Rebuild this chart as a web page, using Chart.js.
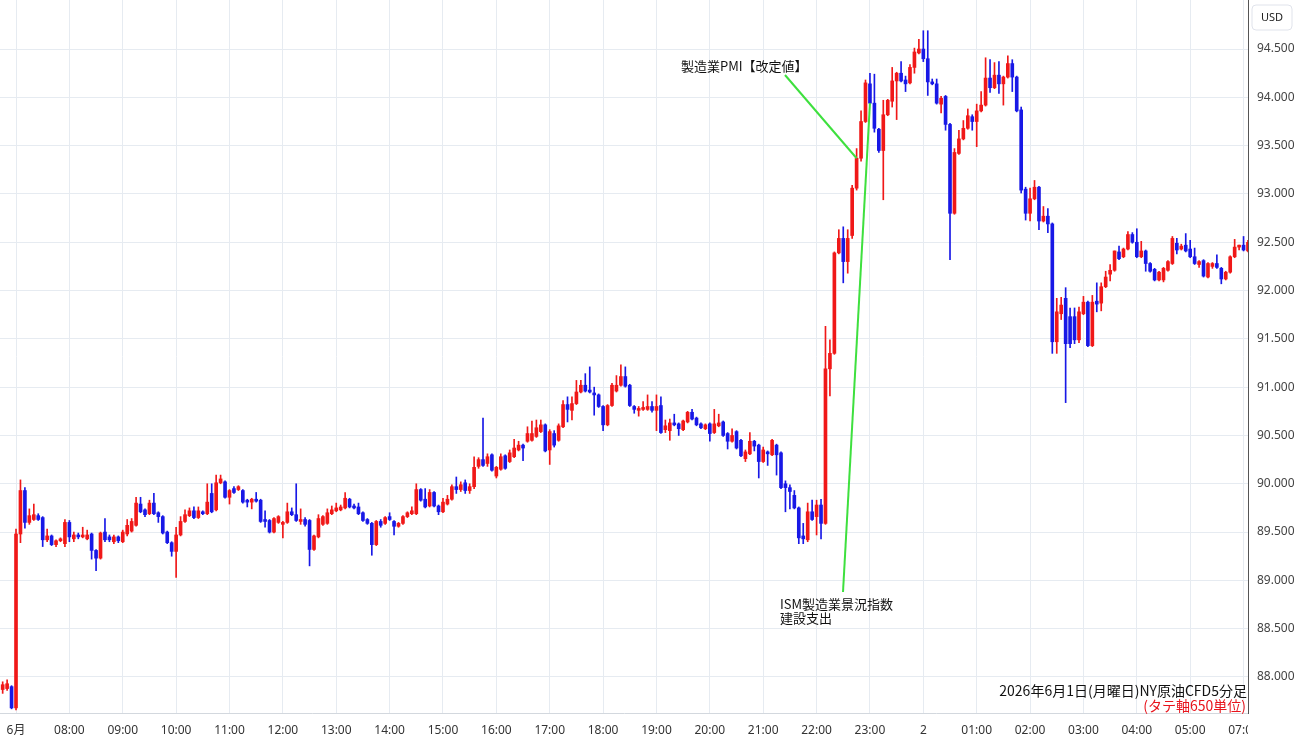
<!DOCTYPE html>
<html>
<head>
<meta charset="utf-8">
<title>NY原油CFD 5分足</title>
<script src="https://cdn.jsdelivr.net/npm/chart.js@4.4.1/dist/chart.umd.min.js"></script>
<style>
  html, body { margin: 0; padding: 0; background: #fff; }
  #chart { display: block; }
</style>
</head>
<body>
<canvas id="chart" width="1300" height="745"></canvas>
<script>
// 5-minute candles: last three Friday bars, then Mon 07:00 -> Tue 07:05 (06:00-07:00 is closed)
const fridayTimes = ['05:45', '05:50', '05:55'];
const sessionHours = ['07', '08', '09', '10', '11', '12', '13', '14', '15', '16', '17', '18',
                      '19', '20', '21', '22', '23', '00', '01', '02', '03', '04', '05'];
const minutes = ['00', '05', '10', '15', '20', '25', '30', '35', '40', '45', '50', '55'];
const tuesdayTimes = ['07:00', '07:05'];

const xTickLabels = ['6月', '08:00', '09:00', '10:00', '11:00', '12:00', '13:00', '14:00', '15:00',
                     '16:00', '17:00', '18:00', '19:00', '20:00', '21:00', '22:00', '23:00', '2',
                     '01:00', '02:00', '03:00', '04:00', '05:00', '07:00'];
const yTicks = [88, 88.5, 89, 89.5, 90, 90.5, 91, 91.5, 92, 92.5, 93, 93.5, 94, 94.5];

const opens = [
  87.87, 87.88, 87.90,
  87.68, 89.48, 89.93, 89.60, 89.63, 89.67, 89.65, 89.42, 89.46, 89.37, 89.41, 89.38, // 07
  89.60, 89.43, 89.47, 89.45, 89.43, 89.48, 89.31, 89.23, 89.50, 89.45, 89.40, 89.45, // 08
  89.40, 89.48, 89.51, 89.57, 89.79, 89.73, 89.69, 89.80, 89.70, 89.66, 89.50, 89.39, // 09
  89.30, 89.47, 89.61, 89.67, 89.72, 89.65, 89.71, 89.69, 89.90, 89.73, 90.01, 90.02, // 10
  89.86, 89.95, 89.94, 89.93, 89.83, 89.81, 89.84, 89.83, 89.63, 89.62, 89.50, 89.60, // 11
  89.58, 89.60, 89.71, 89.68, 89.61, 89.63, 89.62, 89.32, 89.45, 89.58, 89.59, 89.69, // 12
  89.72, 89.73, 89.75, 89.84, 89.77, 89.76, 89.70, 89.63, 89.59, 89.37, 89.61, 89.59, // 13
  89.66, 89.61, 89.56, 89.59, 89.66, 89.69, 89.69, 89.94, 89.84, 89.77, 89.91, 89.77, // 14
  89.71, 89.79, 89.84, 89.97, 89.94, 90.01, 89.93, 89.97, 90.18, 90.25, 90.21, 90.30, // 15
  90.08, 90.15, 90.29, 90.23, 90.28, 90.35, 90.40, 90.44, 90.45, 90.49, 90.54, 90.61, // 16
  90.35, 90.52, 90.45, 90.59, 90.82, 90.76, 90.83, 90.95, 91.02, 90.97, 90.94, 90.92, // 17
  90.80, 90.61, 90.81, 90.96, 91.02, 91.11, 91.02, 90.80, 90.76, 90.77, 90.77, 90.80, // 18
  90.76, 90.81, 90.56, 90.55, 90.63, 90.62, 90.56, 90.64, 90.74, 90.68, 90.62, 90.57, // 19
  90.62, 90.53, 90.60, 90.64, 90.52, 90.44, 90.54, 90.45, 90.26, 90.31, 90.44, 90.40, // 20
  90.23, 90.33, 90.30, 90.40, 90.32, 90.00, 89.96, 89.88, 89.75, 89.46, 89.42, 89.71, // 21
  89.66, 89.78, 89.59, 91.19, 91.35, 92.39, 92.54, 92.30, 92.57, 93.06, 93.37, 93.75, // 22
  94.14, 93.94, 93.67, 93.45, 93.82, 93.96, 94.17, 94.25, 94.18, 94.15, 94.31, 94.46, // 23
  94.50, 94.40, 94.16, 94.14, 93.93, 94.01, 93.72, 92.80, 93.42, 93.57, 93.68, 93.80, // 00
  93.75, 93.86, 93.92, 94.20, 94.10, 94.23, 94.14, 94.21, 94.35, 94.21, 93.87, 93.05, // 01
  92.80, 92.95, 93.07, 92.72, 92.77, 92.69, 91.47, 91.76, 91.92, 91.73, 91.73, 91.49, // 02
  91.76, 91.88, 91.43, 91.89, 91.87, 92.04, 92.17, 92.21, 92.40, 92.35, 92.43, 92.58, // 03
  92.50, 92.35, 92.41, 92.28, 92.22, 92.11, 92.11, 92.21, 92.28, 92.49, 92.43, 92.47, // 04
  92.43, 92.35, 92.27, 92.31, 92.14, 92.25, 92.28, 92.23, 92.12, 92.19, 92.35, 92.45, // 05
  92.47, 92.41
];
const highs = [
  87.95, 87.97, 87.91,
  89.53, 90.04, 89.96, 89.74, 89.79, 89.69, 89.66, 89.53, 89.47, 89.42, 89.44, 89.63,
  89.62, 89.50, 89.49, 89.55, 89.52, 89.49, 89.32, 89.50, 89.64, 89.47, 89.47, 89.46,
  89.52, 89.63, 89.64, 89.86, 89.86, 89.74, 89.83, 89.90, 89.71, 89.67, 89.51, 89.40,
  89.55, 89.66, 89.73, 89.75, 89.76, 89.76, 89.72, 90.00, 90.00, 90.09, 90.09, 90.03,
  89.94, 89.97, 89.98, 89.94, 89.84, 89.85, 89.91, 89.84, 89.72, 89.63, 89.65, 89.67,
  89.61, 89.80, 89.75, 90.00, 89.74, 89.65, 89.63, 89.47, 89.68, 89.67, 89.74, 89.77,
  89.80, 89.78, 89.91, 89.85, 89.79, 89.80, 89.71, 89.64, 89.60, 89.62, 89.63, 89.66,
  89.70, 89.62, 89.60, 89.67, 89.71, 89.76, 90.00, 89.95, 89.95, 89.94, 89.92, 89.78,
  89.85, 89.88, 89.99, 90.07, 90.02, 90.04, 90.00, 90.28, 90.27, 90.68, 90.31, 90.31,
  90.18, 90.31, 90.30, 90.35, 90.46, 90.44, 90.41, 90.59, 90.65, 90.66, 90.66, 90.62,
  90.56, 90.55, 90.62, 90.86, 90.90, 90.90, 91.07, 91.07, 91.14, 91.21, 91.00, 90.93,
  90.81, 90.82, 91.04, 91.12, 91.23, 91.21, 91.03, 90.81, 90.80, 90.85, 90.92, 90.85,
  90.92, 90.90, 90.66, 90.67, 90.72, 90.63, 90.66, 90.75, 90.77, 90.69, 90.63, 90.62,
  90.63, 90.77, 90.72, 90.65, 90.53, 90.57, 90.55, 90.46, 90.35, 90.53, 90.45, 90.41,
  90.38, 90.34, 90.46, 90.41, 90.33, 90.03, 89.99, 89.93, 89.76, 89.59, 89.80, 89.83,
  89.83, 89.84, 91.63, 91.49, 92.40, 92.63, 92.66, 92.63, 93.09, 93.47, 93.86, 94.18,
  94.25, 94.24, 93.68, 93.97, 93.98, 94.31, 94.26, 94.37, 94.22, 94.34, 94.51, 94.60,
  94.69, 94.69, 94.19, 94.19, 94.01, 94.02, 93.73, 93.47, 93.66, 93.76, 93.88, 93.82,
  93.93, 94.06, 94.41, 94.39, 94.36, 94.37, 94.22, 94.43, 94.39, 94.22, 93.90, 93.07,
  93.06, 93.14, 93.08, 92.87, 92.85, 92.70, 91.92, 91.93, 92.03, 91.82, 91.82, 91.83,
  91.94, 91.89, 91.95, 92.08, 92.08, 92.20, 92.27, 92.41, 92.46, 92.44, 92.61, 92.60,
  92.64, 92.51, 92.42, 92.29, 92.23, 92.20, 92.24, 92.31, 92.56, 92.54, 92.48, 92.59,
  92.52, 92.44, 92.31, 92.32, 92.29, 92.29, 92.37, 92.24, 92.20, 92.36, 92.53, 92.47,
  92.56, 92.52
];
const lows = [
  87.83, 87.86, 87.67,
  87.66, 89.39, 89.54, 89.58, 89.62, 89.62, 89.35, 89.40, 89.36, 89.35, 89.40, 89.35,
  89.40, 89.40, 89.43, 89.44, 89.42, 89.22, 89.10, 89.22, 89.40, 89.40, 89.38, 89.39,
  89.39, 89.46, 89.50, 89.56, 89.70, 89.66, 89.68, 89.68, 89.60, 89.48, 89.38, 89.25,
  89.03, 89.46, 89.60, 89.66, 89.64, 89.64, 89.68, 89.68, 89.70, 89.72, 90.00, 89.85,
  89.79, 89.90, 89.93, 89.80, 89.76, 89.74, 89.81, 89.60, 89.55, 89.49, 89.49, 89.59,
  89.44, 89.59, 89.67, 89.61, 89.58, 89.56, 89.15, 89.31, 89.44, 89.57, 89.58, 89.68,
  89.71, 89.72, 89.74, 89.75, 89.74, 89.68, 89.61, 89.58, 89.26, 89.36, 89.55, 89.58,
  89.62, 89.47, 89.55, 89.58, 89.65, 89.68, 89.68, 89.82, 89.75, 89.76, 89.76, 89.68,
  89.70, 89.78, 89.83, 89.90, 89.92, 89.90, 89.90, 89.95, 90.16, 90.18, 90.18, 90.13,
  90.06, 90.14, 90.15, 90.22, 90.27, 90.34, 90.24, 90.43, 90.44, 90.48, 90.53, 90.33,
  90.20, 90.38, 90.44, 90.58, 90.64, 90.66, 90.82, 90.94, 90.95, 90.94, 90.71, 90.79,
  90.55, 90.60, 90.80, 90.95, 91.01, 91.00, 90.80, 90.73, 90.70, 90.76, 90.76, 90.74,
  90.55, 90.52, 90.53, 90.45, 90.60, 90.50, 90.55, 90.63, 90.66, 90.60, 90.57, 90.56,
  90.44, 90.52, 90.59, 90.49, 90.36, 90.43, 90.36, 90.28, 90.23, 90.30, 90.34, 90.06,
  90.22, 90.19, 90.29, 90.09, 89.95, 89.71, 89.74, 89.74, 89.38, 89.38, 89.40, 89.62,
  89.47, 89.43, 89.58, 90.91, 91.34, 92.38, 92.08, 92.18, 92.54, 93.04, 93.34, 93.74,
  93.93, 93.64, 93.43, 92.94, 93.81, 93.90, 93.77, 94.16, 94.06, 94.14, 94.25, 94.45,
  94.37, 94.02, 94.13, 93.93, 93.84, 93.66, 92.32, 92.79, 93.41, 93.56, 93.67, 93.66,
  93.49, 93.85, 93.91, 94.05, 94.09, 94.04, 93.92, 94.20, 94.06, 93.85, 93.01, 92.73,
  92.72, 92.94, 92.63, 92.71, 92.60, 91.35, 91.35, 91.70, 90.84, 91.41, 91.45, 91.46,
  91.75, 91.42, 91.42, 91.78, 91.79, 92.03, 92.10, 92.20, 92.32, 92.34, 92.42, 92.49,
  92.34, 92.34, 92.20, 92.19, 92.10, 92.10, 92.09, 92.20, 92.27, 92.38, 92.42, 92.40,
  92.34, 92.27, 92.24, 92.14, 92.13, 92.23, 92.23, 92.07, 92.11, 92.18, 92.34, 92.42,
  92.41, 92.40
];
const closes = [
  87.92, 87.93, 87.68,
  89.48, 89.93, 89.60, 89.67, 89.68, 89.63, 89.42, 89.46, 89.37, 89.41, 89.43, 89.60,
  89.45, 89.47, 89.45, 89.47, 89.47, 89.31, 89.23, 89.49, 89.42, 89.42, 89.45, 89.41,
  89.50, 89.57, 89.61, 89.80, 89.71, 89.68, 89.80, 89.69, 89.66, 89.49, 89.39, 89.30,
  89.47, 89.61, 89.68, 89.72, 89.65, 89.72, 89.69, 89.81, 89.71, 90.01, 90.05, 89.86,
  89.93, 89.91, 89.97, 89.81, 89.81, 89.84, 89.82, 89.61, 89.61, 89.50, 89.64, 89.66,
  89.60, 89.71, 89.68, 89.62, 89.63, 89.58, 89.32, 89.46, 89.64, 89.66, 89.70, 89.73,
  89.75, 89.76, 89.85, 89.76, 89.75, 89.69, 89.62, 89.59, 89.37, 89.61, 89.57, 89.65,
  89.63, 89.56, 89.59, 89.66, 89.70, 89.72, 89.94, 89.83, 89.76, 89.91, 89.77, 89.71,
  89.81, 89.84, 89.97, 89.94, 89.99, 89.93, 89.97, 90.17, 90.25, 90.19, 90.28, 90.14,
  90.17, 90.28, 90.16, 90.32, 90.37, 90.40, 90.37, 90.52, 90.52, 90.58, 90.61, 90.34,
  90.54, 90.40, 90.60, 90.82, 90.77, 90.83, 90.95, 91.02, 90.96, 90.95, 90.92, 90.80,
  90.61, 90.81, 91.02, 91.02, 91.11, 91.01, 90.81, 90.77, 90.78, 90.79, 90.80, 90.76,
  90.80, 90.53, 90.60, 90.63, 90.61, 90.57, 90.65, 90.74, 90.67, 90.61, 90.58, 90.61,
  90.52, 90.62, 90.63, 90.50, 90.44, 90.50, 90.37, 90.29, 90.33, 90.44, 90.39, 90.23,
  90.35, 90.31, 90.45, 90.30, 89.96, 89.96, 89.92, 89.75, 89.44, 89.43, 89.71, 89.63,
  89.78, 89.59, 91.19, 91.35, 92.39, 92.54, 92.30, 92.54, 93.06, 93.37, 93.75, 94.15,
  93.94, 93.68, 93.45, 93.82, 93.97, 94.17, 94.25, 94.17, 94.14, 94.31, 94.47, 94.50,
  94.40, 94.16, 94.14, 93.94, 93.99, 93.72, 92.80, 93.43, 93.57, 93.68, 93.81, 93.75,
  93.86, 93.92, 94.20, 94.10, 94.23, 94.14, 94.21, 94.35, 94.21, 93.86, 93.04, 92.80,
  92.95, 93.07, 92.72, 92.77, 92.69, 91.47, 91.78, 91.85, 91.45, 91.45, 91.49, 91.78,
  91.88, 91.43, 91.88, 91.86, 92.04, 92.14, 92.21, 92.41, 92.33, 92.43, 92.58, 92.50,
  92.35, 92.41, 92.28, 92.20, 92.11, 92.19, 92.23, 92.30, 92.54, 92.42, 92.46, 92.41,
  92.35, 92.28, 92.30, 92.15, 92.28, 92.28, 92.24, 92.12, 92.19, 92.35, 92.45, 92.47,
  92.42, 92.50
];

const UP = '#f01818';
const DOWN = '#1818e6';
const GRID = '#e6ebf1';
const FONT = '"Noto Sans", "Noto Sans CJK JP", sans-serif';
const JP_FONT = '"Noto Sans CJK JP", "Noto Sans", sans-serif';

// time labels for every bar
const times = fridayTimes.slice();
sessionHours.forEach(h => minutes.forEach(m => times.push(h + ':' + m)));
tuesdayTimes.forEach(t => times.push(t));

// hour gridlines / labels (skip the Friday bars)
const xTickIdx = [];
times.forEach((t, i) => { if (i >= fridayTimes.length && t.endsWith(':00')) xTickIdx.push(i); });

const barColors = closes.map((c, i) => c >= opens[i] ? UP : DOWN);
const bodyData = opens.map((o, i) => ({ x: i, y: [o, closes[i]] }));
const wickData = highs.map((h, i) => ({ x: i, y: [lows[i], h] }));

// event notes: text block and the candle the green line points to
const notes = [
    { lines: ['製造業PMI【改定値】'], tx: 681, ty: 66, from: [785, 75], bar: 192 },
    { lines: ['ISM製造業景況指数', '建設支出'], tx: 780, ty: 604, from: [843, 592], bar: 195 }
];

const overlay = {
    id: 'overlay',
    afterDatasetsDraw(chart) {
        const { ctx, scales: { x, y } } = chart;
        ctx.save();
        ctx.strokeStyle = '#3ee03e';
        ctx.lineWidth = 2;
        notes.forEach(n => {
            ctx.beginPath();
            ctx.moveTo(n.from[0], n.from[1]);
            ctx.lineTo(x.getPixelForValue(n.bar), y.getPixelForValue(closes[n.bar]));
            ctx.stroke();
        });
        ctx.restore();
    },
    afterDraw(chart) {
        const { ctx, chartArea, scales: { x } } = chart;

        // time axis labels, clipped at the price axis like the original
        ctx.save();
        ctx.beginPath();
        ctx.rect(0, chartArea.bottom, chartArea.right, chart.height - chartArea.bottom);
        ctx.clip();
        ctx.font = '12px ' + FONT;
        ctx.fillStyle = '#333';
        ctx.textAlign = 'center';
        ctx.textBaseline = 'middle';
        xTickIdx.forEach((idx, k) => {
            ctx.fillText(xTickLabels[k], x.getPixelForValue(idx), 731);
        });
        ctx.restore();

        // currency badge
        ctx.save();
        const bx = 1252, by = 5, bw = 40, bh = 25, r = 4;
        ctx.beginPath();
        ctx.moveTo(bx + r, by);
        ctx.lineTo(bx + bw - r, by);
        ctx.quadraticCurveTo(bx + bw, by, bx + bw, by + r);
        ctx.lineTo(bx + bw, by + bh - r);
        ctx.quadraticCurveTo(bx + bw, by + bh, bx + bw - r, by + bh);
        ctx.lineTo(bx + r, by + bh);
        ctx.quadraticCurveTo(bx, by + bh, bx, by + bh - r);
        ctx.lineTo(bx, by + r);
        ctx.quadraticCurveTo(bx, by, bx + r, by);
        ctx.fillStyle = '#fff';
        ctx.fill();
        ctx.strokeStyle = '#e0e3eb';
        ctx.lineWidth = 1;
        ctx.stroke();
        ctx.fillStyle = '#222';
        ctx.font = '11px ' + FONT;
        ctx.textAlign = 'center';
        ctx.textBaseline = 'middle';
        ctx.fillText('USD', bx + bw / 2, by + bh / 2);
        ctx.restore();

        // notes
        ctx.save();
        ctx.font = '13px ' + JP_FONT;
        ctx.fillStyle = '#111';
        ctx.textAlign = 'left';
        ctx.textBaseline = 'middle';
        notes.forEach(n => {
            n.lines.forEach((line, k) => ctx.fillText(line, n.tx, n.ty + k * 14));
        });

        // caption
        ctx.font = '14px ' + JP_FONT;
        ctx.textAlign = 'right';
        ctx.fillText('2026年6月1日(月曜日)NY原油CFD5分足', 1247, 691);
        ctx.fillStyle = '#e8141c';
        ctx.fillText('(タテ軸650単位)', 1246, 706);
        ctx.restore();
    }
};

document.addEventListener('DOMContentLoaded', function() {
    const ctx = document.getElementById('chart').getContext('2d');

    new Chart(ctx, {
        type: 'bar',
        data: {
            datasets: [
                {
                    label: 'wick',
                    data: wickData,
                    backgroundColor: barColors,
                    barThickness: 1,
                    grouped: false,
                    order: 2
                },
                {
                    label: 'body',
                    data: bodyData,
                    backgroundColor: barColors,
                    barThickness: 3,
                    grouped: false,
                    order: 1
                }
            ]
        },
        options: {
            responsive: false,
            animation: false,
            layout: { padding: { top: 0, right: 0, bottom: 32, left: 0 } },
            plugins: {
                legend: { display: false },
                tooltip: { enabled: false }
            },
            scales: {
                x: {
                    type: 'linear',
                    min: -0.6,
                    max: 280,
                    offset: false,
                    grid: { color: GRID, offset: false, drawTicks: false },
                    border: { display: true, color: '#d3d8de' },
                    ticks: { display: false },
                    afterBuildTicks: function(scale) {
                        scale.ticks = xTickIdx.map(v => ({ value: v }));
                    }
                },
                y: {
                    position: 'right',
                    min: 87.627,
                    max: 95.008,
                    grid: { color: GRID, drawTicks: false },
                    border: { display: true, color: '#555' },
                    ticks: {
                        padding: 9,
                        color: '#444',
                        font: { size: 12, family: FONT },
                        callback: function(value) {
                            return Number(value).toFixed(3);
                        }
                    },
                    afterBuildTicks: function(scale) {
                        scale.ticks = yTicks.map(v => ({ value: v }));
                    },
                    afterFit: function(scale) {
                        scale.width = 52;
                        scale.paddingTop = 0;
                        scale.paddingBottom = 0;
                    }
                }
            }
        },
        plugins: [overlay]
    });
});
</script>
</body>
</html>
